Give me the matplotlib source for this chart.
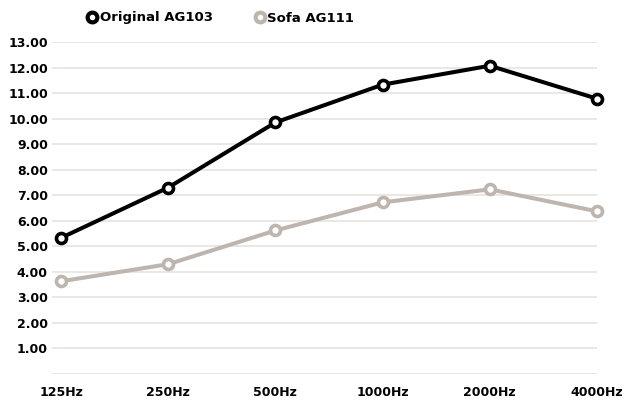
import matplotlib
matplotlib.use("Agg")
import matplotlib.pyplot as plt

freqs = ["125Hz", "250Hz", "500Hz", "1000Hz", "2000Hz", "4000Hz"]
original = [5.33, 7.30, 9.85, 11.33, 12.07, 10.78]
sofa = [3.63, 4.30, 5.62, 6.72, 7.23, 6.37]
y_ticks = [1, 2, 3, 4, 5, 6, 7, 8, 9, 10, 11, 12, 13]

plt.rcParams['font.family'] = ['DejaVu Sans']

fig = plt.figure(figsize=(6.25, 4.04), dpi=100)
ax = fig.add_axes([52 / 625, 30 / 404, 545 / 625, 332 / 404])

grey = '#bdb5ae'
x = list(range(len(freqs)))
ax.plot(x, original, color='black', lw=2.9, marker='o', ms=7.2,
        mfc='white', mec='black', mew=2.6, label='Original AG103', zorder=4, clip_on=False)
ax.plot(x, sofa, color=grey, lw=2.9, marker='o', ms=7.2,
        mfc='white', mec=grey, mew=2.6, label='Sofa AG111', zorder=3, clip_on=False)

ax.set_xlim(-0.084, 5)
ax.set_ylim(0, 13)
for v in [0] + y_ticks:
    ax.axhline(v, color='#e6e2dd', lw=1.1, zorder=1)

ax.set_yticks(y_ticks)
ax.set_yticklabels([f"{v:.2f}" for v in y_ticks], fontsize=9, fontweight='bold')
ax.set_xticks(x)
ax.set_xticklabels(freqs, fontsize=9, fontweight='bold')
ax.tick_params(length=0)
ax.tick_params(axis='y', pad=3)
ax.tick_params(axis='x', pad=9)
for s in ax.spines.values():
    s.set_visible(False)

leg = fig.legend(loc='center left', bbox_to_anchor=(89 / 625, 1 - 18 / 404), ncol=2, frameon=False,
                 handlelength=0.5, handletextpad=0.3, columnspacing=3.35,
                 borderaxespad=0, borderpad=0,
                 prop={'weight': 'bold', 'size': 9.5})
for h in leg.legend_handles:
    h.set_linestyle('')
    h.set_markersize(7)
    h.set_markeredgewidth(3)

fig.savefig("out.png", dpi=100)
